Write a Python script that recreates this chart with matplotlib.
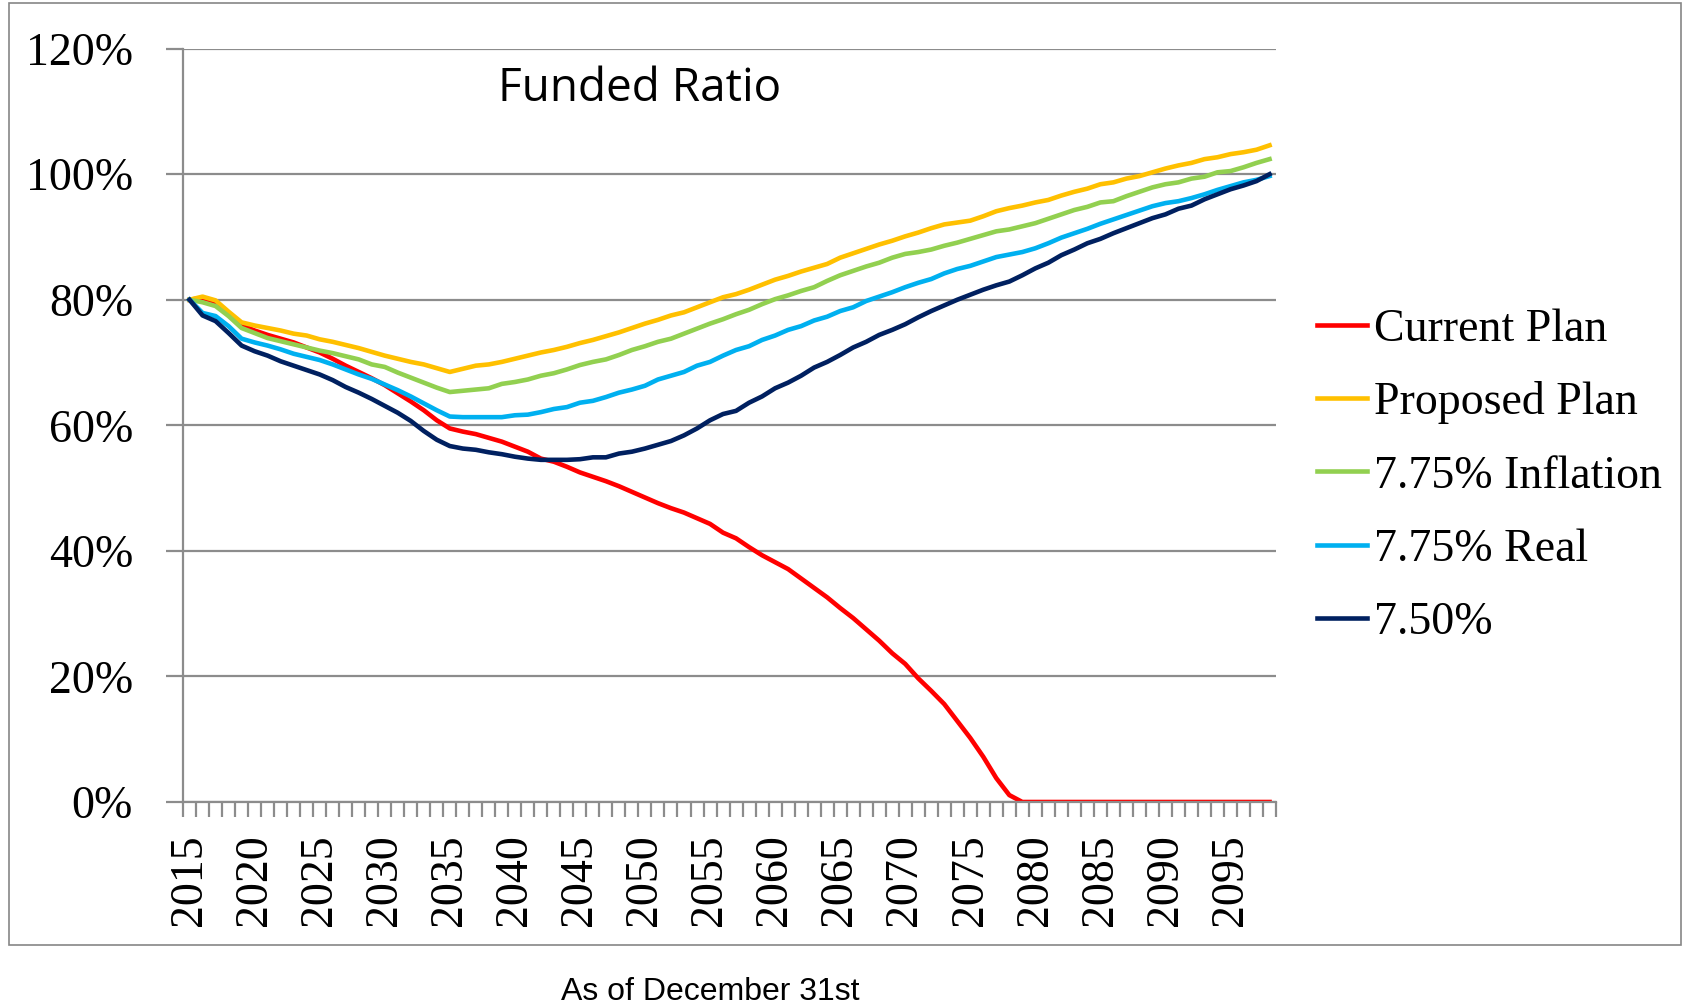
import numpy as np
import matplotlib
matplotlib.use('Agg')
import matplotlib.pyplot as plt
from matplotlib.patches import Rectangle

# Funded ratio projections, as of December 31st
years = np.arange(2015, 2099)

current_plan = [80.0, 80.3, 79.6, 77.9, 76.0, 75.1, 74.4, 73.8, 73.2, 72.4,
                71.6, 70.6, 69.5, 68.5, 67.5, 66.4, 65.1, 63.8, 62.4, 60.8,
                59.5, 59.0, 58.6, 58.0, 57.4, 56.6, 55.8, 54.7, 54.2, 53.4,
                52.5, 51.8, 51.1, 50.3, 49.4, 48.5, 47.6, 46.8, 46.1, 45.2,
                44.3, 42.9, 42.0, 40.6, 39.3, 38.2, 37.1, 35.6, 34.1, 32.6,
                30.9, 29.3, 27.5, 25.7, 23.7, 22.0, 19.7, 17.7, 15.6, 12.9,
                10.2, 7.2, 3.8, 1.1, 0.0, 0.0, 0.0, 0.0, 0.0, 0.0,
                0.0, 0.0, 0.0, 0.0, 0.0, 0.0, 0.0, 0.0, 0.0, 0.0,
                0.0, 0.0, 0.0, 0.0]

proposed_plan = [80.0, 80.5, 79.9, 78.1, 76.4, 75.9, 75.5, 75.1, 74.6, 74.3,
                 73.7, 73.3, 72.8, 72.3, 71.7, 71.1, 70.6, 70.1, 69.7, 69.1,
                 68.5, 69.0, 69.5, 69.7, 70.1, 70.6, 71.1, 71.6, 72.0, 72.5,
                 73.1, 73.6, 74.2, 74.8, 75.5, 76.2, 76.8, 77.5, 78.0, 78.8,
                 79.6, 80.4, 80.9, 81.6, 82.4, 83.2, 83.8, 84.5, 85.1, 85.7,
                 86.7, 87.4, 88.1, 88.8, 89.4, 90.1, 90.7, 91.4, 92.0, 92.3,
                 92.6, 93.3, 94.1, 94.6, 95.0, 95.5, 95.9, 96.6, 97.2, 97.7,
                 98.4, 98.7, 99.3, 99.7, 100.3, 100.9, 101.4, 101.8, 102.4, 102.7,
                 103.2, 103.5, 103.9, 104.6]

inflation_775 = [80.0, 79.6, 79.0, 77.4, 75.5, 74.7, 73.9, 73.4, 72.9, 72.4,
                 71.9, 71.5, 71.0, 70.5, 69.7, 69.3, 68.4, 67.6, 66.8, 66.0,
                 65.3, 65.5, 65.7, 65.9, 66.6, 66.9, 67.3, 67.9, 68.3, 68.9,
                 69.6, 70.1, 70.5, 71.2, 72.0, 72.6, 73.3, 73.8, 74.6, 75.4,
                 76.2, 76.9, 77.7, 78.4, 79.3, 80.1, 80.7, 81.4, 82.0, 83.0,
                 83.9, 84.6, 85.3, 85.9, 86.7, 87.3, 87.6, 88.0, 88.6, 89.1,
                 89.7, 90.3, 90.9, 91.2, 91.7, 92.2, 92.9, 93.6, 94.3, 94.8,
                 95.5, 95.7, 96.5, 97.2, 97.9, 98.4, 98.7, 99.3, 99.6, 100.3,
                 100.5, 101.1, 101.8, 102.4]

real_775 = [80.0, 77.9, 77.4, 75.8, 73.8, 73.2, 72.7, 72.1, 71.4, 70.9,
            70.4, 69.7, 68.9, 68.1, 67.4, 66.5, 65.6, 64.6, 63.5, 62.4,
            61.4, 61.3, 61.3, 61.3, 61.3, 61.6, 61.7, 62.1, 62.6, 62.9,
            63.6, 63.9, 64.5, 65.2, 65.7, 66.3, 67.3, 67.9, 68.5, 69.5,
            70.1, 71.1, 72.0, 72.6, 73.6, 74.3, 75.2, 75.8, 76.7, 77.3,
            78.2, 78.8, 79.8, 80.5, 81.2, 82.0, 82.7, 83.3, 84.2, 84.9,
            85.4, 86.1, 86.8, 87.2, 87.6, 88.2, 89.0, 89.9, 90.6, 91.3,
            92.1, 92.8, 93.5, 94.2, 94.9, 95.4, 95.7, 96.2, 96.8, 97.5,
            98.1, 98.7, 99.1, 99.7]

rate_750 = [80.0, 77.5, 76.6, 74.7, 72.7, 71.8, 71.1, 70.2, 69.5, 68.8,
            68.1, 67.2, 66.1, 65.2, 64.2, 63.1, 62.0, 60.7, 59.1, 57.7,
            56.7, 56.3, 56.1, 55.7, 55.4, 55.0, 54.7, 54.5, 54.5, 54.5,
            54.6, 54.9, 54.9, 55.5, 55.8, 56.3, 56.9, 57.5, 58.4, 59.5,
            60.8, 61.8, 62.3, 63.6, 64.6, 65.9, 66.8, 67.9, 69.2, 70.1,
            71.2, 72.4, 73.3, 74.4, 75.2, 76.1, 77.2, 78.2, 79.1, 80.0,
            80.8, 81.6, 82.3, 82.9, 83.9, 85.0, 85.9, 87.1, 88.0, 89.0,
            89.7, 90.6, 91.4, 92.2, 93.0, 93.6, 94.5, 95.0, 96.0, 96.8,
            97.6, 98.2, 98.9, 100.0]

series_labels = ['Current Plan', 'Proposed Plan', '7.75% Inflation', '7.75% Real', '7.50%']
series_colors = ['#FF0000', '#FFC000', '#92D050', '#00B0F0', '#002060']
series_values = [current_plan, proposed_plan, inflation_775, real_775, rate_750]

y_ticks = [0, 20, 40, 60, 80, 100, 120]
x_label_years = [2015, 2020, 2025, 2030, 2035, 2040, 2045, 2050,
                 2055, 2060, 2065, 2070, 2075, 2080, 2085, 2090, 2095]

grid_color = '#8C8C8C'
serif = ['Liberation Serif', 'DejaVu Serif']

fig = plt.figure(figsize=(16.87, 10.05), dpi=100)
ax = fig.add_axes([0.1085, 0.202, 0.6479, 0.7496])

for vals, lab, col in zip(series_values, series_labels, series_colors):
    ax.plot(years, vals, color=col, lw=3.3, label=lab, solid_joinstyle='round')

ax.set_xlim(years[0] - 0.5, years[-1] + 0.5)
ax.set_ylim(0, 120)

# horizontal gridlines
ax.set_yticks(y_ticks)
ax.set_yticklabels(['%d%%' % v for v in y_ticks], fontsize=33, family=serif)
ax.yaxis.grid(True, color=grid_color, lw=1.6)
ax.set_axisbelow(True)
ax.tick_params(axis='y', length=12, width=1.6, color=grid_color, pad=24)

# category axis: tick marks between years, labels every 5 years
ax.set_xticks(np.arange(years[0] - 0.5, years[-1] + 1.0, 1.0))
ax.set_xticklabels([])
ax.tick_params(axis='x', which='major', length=11, width=1.6, color=grid_color)
ax.set_xticks(x_label_years, minor=True)
ax.set_xticklabels([str(y) for y in x_label_years], minor=True,
                   rotation=90, fontsize=33, family=serif)
ax.tick_params(axis='x', which='minor', length=0, pad=23)

for s in ['top', 'right']:
    ax.spines[s].set_visible(False)
for s in ['left', 'bottom']:
    ax.spines[s].set_color(grid_color)
    ax.spines[s].set_linewidth(1.6)

ax.text(0.418, 0.947, 'Funded Ratio', transform=ax.transAxes, ha='center',
        va='center', fontsize=33, family=['Open Sans', 'DejaVu Sans'])

fig.legend(loc='center left', bbox_to_anchor=(1317 / 1687, 1 - 476 / 1005),
           frameon=False, prop={'family': serif, 'size': 33},
           handlelength=1.1, handletextpad=0.15, labelspacing=0.67,
           borderpad=0, borderaxespad=0)

# outer chart border
fig.patches.append(Rectangle((9 / 1687, 1 - 945 / 1005), 1672 / 1687, 942 / 1005,
                             transform=fig.transFigure, fill=False,
                             edgecolor='#868686', lw=1.2))

fig.text(710 / 1687, 1 - 992 / 1005, 'As of December 31st', ha='center', va='center',
         fontsize=23, family=['Liberation Sans', 'DejaVu Sans'])

fig.savefig('out.png', dpi=100)
